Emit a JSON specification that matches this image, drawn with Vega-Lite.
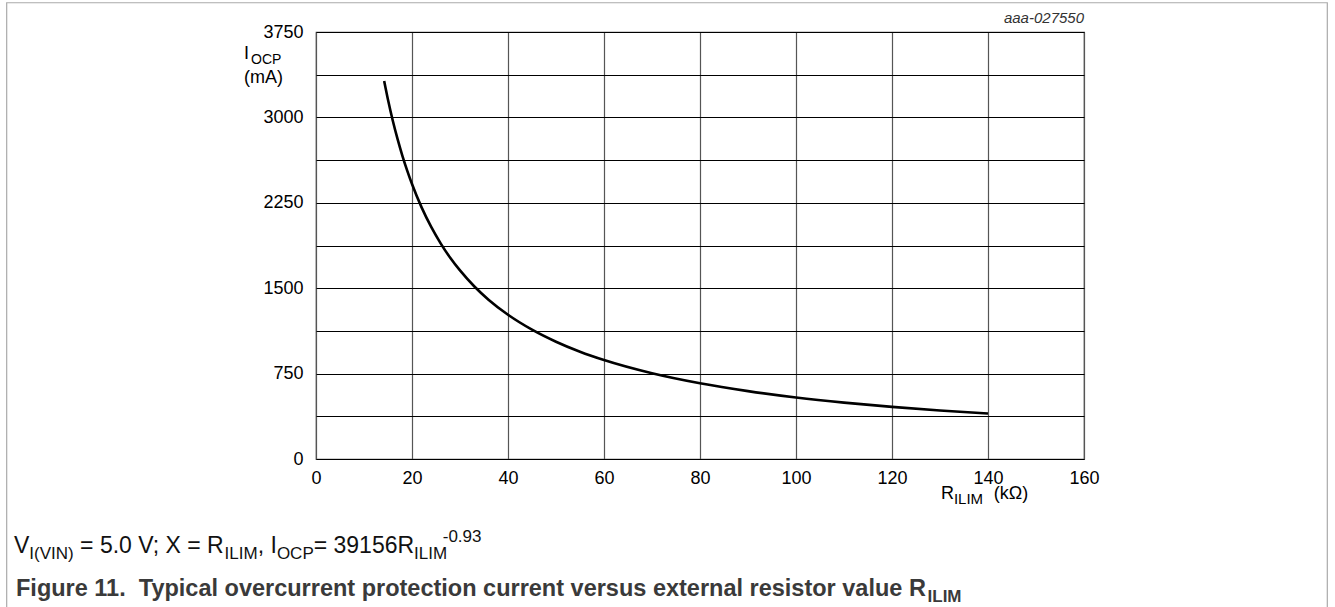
{
  "$schema": "https://vega.github.io/schema/vega-lite/v6.json",
  "width": 768,
  "height": 427,
  "autosize": {"type": "none"},
  "padding": {"left": 316, "top": 32, "right": 251, "bottom": 148},
  "background": "white",
  "config": {
    "font": "Liberation Sans",
    "view": {"stroke": "#444", "strokeWidth": 1.2}
  },
  "layer": [
    {
      "data": {"values": [{"k": 1}]},
      "mark": {"type": "rect", "fillOpacity": 0, "stroke": "#aaaaaa", "strokeWidth": 1.2, "clip": false},
      "encoding": {
        "x": {"datum": -64.44, "type": "quantitative", "scale": {"domain": [0, 160], "nice": false}},
        "x2": {"datum": 210.69},
        "y": {"datum": 4007, "type": "quantitative", "scale": {"domain": [0, 3750], "nice": false}},
        "y2": {"datum": -1414}
      }
    },
    {
      "data": {
        "values": [
          {"r": 14.2, "i": 3320}, {"r": 15, "i": 3155}, {"r": 16, "i": 2971}, {"r": 17, "i": 2809},
          {"r": 18, "i": 2663}, {"r": 19, "i": 2533}, {"r": 20, "i": 2415}, {"r": 22, "i": 2210},
          {"r": 24, "i": 2038}, {"r": 26, "i": 1892}, {"r": 28, "i": 1765}, {"r": 30, "i": 1656},
          {"r": 33, "i": 1515}, {"r": 36, "i": 1397}, {"r": 40, "i": 1267}, {"r": 45, "i": 1136},
          {"r": 50, "i": 1030}, {"r": 55, "i": 942}, {"r": 60, "i": 869}, {"r": 70, "i": 753},
          {"r": 80, "i": 665}, {"r": 90, "i": 596}, {"r": 100, "i": 540}, {"r": 110, "i": 495},
          {"r": 120, "i": 458}, {"r": 130, "i": 426}, {"r": 140, "i": 400}
        ]
      },
      "mark": {"type": "line", "color": "#000", "strokeWidth": 2.6, "interpolate": "monotone"},
      "encoding": {
        "x": {
          "field": "r", "type": "quantitative",
          "scale": {"domain": [0, 160], "nice": false},
          "axis": {
            "values": [0, 20, 40, 60, 80, 100, 120, 140, 160],
            "title": null, "ticks": false, "domain": false,
            "grid": true, "gridColor": "#555", "gridWidth": 1.2, "gridOpacity": 1,
            "labelFontSize": 18, "labelColor": "#000", "labelPadding": 10, "labelFlush": false
          }
        },
        "y": {
          "field": "i", "type": "quantitative",
          "scale": {"domain": [0, 3750], "nice": false},
          "axis": {
            "values": [0, 375, 750, 1125, 1500, 1875, 2250, 2625, 3000, 3375, 3750],
            "labelExpr": "datum.value % 750 === 0 ? format(datum.value, 'd') : ''",
            "title": null, "ticks": false, "domain": false,
            "grid": true, "gridColor": "#000", "gridWidth": 1.2, "gridOpacity": 1,
            "labelFontSize": 18, "labelColor": "#000", "labelPadding": 13, "labelFlush": false
          }
        }
      }
    },
    {
      "data": {"values": [{"t": "aaa-027550"}]},
      "mark": {"type": "text", "align": "right", "baseline": "alphabetic", "fontSize": 15, "fontStyle": "italic", "color": "#333"},
      "encoding": {"text": {"field": "t"}, "x": {"datum": 160}, "y": {"datum": 3829}}
    },
    {
      "data": {"values": [{"t": "I"}]},
      "mark": {"type": "text", "align": "left", "baseline": "alphabetic", "fontSize": 18, "color": "#000"},
      "encoding": {"text": {"field": "t"}, "x": {"datum": -15}, "y": {"datum": 3513}}
    },
    {
      "data": {"values": [{"t": "OCP"}]},
      "mark": {"type": "text", "align": "left", "baseline": "alphabetic", "fontSize": 14, "color": "#000"},
      "encoding": {"text": {"field": "t"}, "x": {"datum": -13.54}, "y": {"datum": 3469}}
    },
    {
      "data": {"values": [{"t": "(mA)"}]},
      "mark": {"type": "text", "align": "left", "baseline": "alphabetic", "fontSize": 18, "color": "#000"},
      "encoding": {"text": {"field": "t"}, "x": {"datum": -15}, "y": {"datum": 3302}}
    },
    {
      "data": {"values": [{"t": "R"}]},
      "mark": {"type": "text", "align": "left", "baseline": "alphabetic", "fontSize": 18, "color": "#000"},
      "encoding": {"text": {"field": "t"}, "x": {"datum": 130.2}, "y": {"datum": -351}}
    },
    {
      "data": {"values": [{"t": "ILIM"}]},
      "mark": {"type": "text", "align": "left", "baseline": "alphabetic", "fontSize": 15, "color": "#000"},
      "encoding": {"text": {"field": "t"}, "x": {"datum": 132.9}, "y": {"datum": -395}}
    },
    {
      "data": {"values": [{"t": "(kΩ)"}]},
      "mark": {"type": "text", "align": "left", "baseline": "alphabetic", "fontSize": 18, "color": "#000"},
      "encoding": {"text": {"field": "t"}, "x": {"datum": 141.2}, "y": {"datum": -351}}
    },
    {
      "data": {"values": [{"t": "V"}]},
      "mark": {"type": "text", "align": "left", "baseline": "alphabetic", "fontSize": 23, "color": "#111"},
      "encoding": {"text": {"field": "t"}, "x": {"datum": -62.917}, "y": {"datum": -825.5}}
    },
    {
      "data": {"values": [{"t": "I(VIN)"}]},
      "mark": {"type": "text", "align": "left", "baseline": "alphabetic", "fontSize": 17, "color": "#111"},
      "encoding": {"text": {"field": "t"}, "x": {"datum": -59.729}, "y": {"datum": -878}}
    },
    {
      "data": {"values": [{"t": "= 5.0 V; X = R"}]},
      "mark": {"type": "text", "align": "left", "baseline": "alphabetic", "fontSize": 23, "color": "#111"},
      "encoding": {"text": {"field": "t"}, "x": {"datum": -49.15}, "y": {"datum": -825.5}}
    },
    {
      "data": {"values": [{"t": "ILIM"}]},
      "mark": {"type": "text", "align": "left", "baseline": "alphabetic", "fontSize": 17, "color": "#111"},
      "encoding": {"text": {"field": "t"}, "x": {"datum": -19.042}, "y": {"datum": -878}}
    },
    {
      "data": {"values": [{"t": ", I"}]},
      "mark": {"type": "text", "align": "left", "baseline": "alphabetic", "fontSize": 23, "color": "#111"},
      "encoding": {"text": {"field": "t"}, "x": {"datum": -12.146}, "y": {"datum": -825.5}}
    },
    {
      "data": {"values": [{"t": "OCP"}]},
      "mark": {"type": "text", "align": "left", "baseline": "alphabetic", "fontSize": 17, "color": "#111"},
      "encoding": {"text": {"field": "t"}, "x": {"datum": -8.146}, "y": {"datum": -878}}
    },
    {
      "data": {"values": [{"t": "= 39156R"}]},
      "mark": {"type": "text", "align": "left", "baseline": "alphabetic", "fontSize": 23, "color": "#111"},
      "encoding": {"text": {"field": "t"}, "x": {"datum": -0.479}, "y": {"datum": -825.5}}
    },
    {
      "data": {"values": [{"t": "ILIM"}]},
      "mark": {"type": "text", "align": "left", "baseline": "alphabetic", "fontSize": 17, "color": "#111"},
      "encoding": {"text": {"field": "t"}, "x": {"datum": 20.438}, "y": {"datum": -878}}
    },
    {
      "data": {"values": [{"t": "-0.93"}]},
      "mark": {"type": "text", "align": "left", "baseline": "alphabetic", "fontSize": 17, "color": "#111"},
      "encoding": {"text": {"field": "t"}, "x": {"datum": 26.4}, "y": {"datum": -733}}
    },
    {
      "data": {"values": [{"t": "Figure 11.\u00a0 Typical overcurrent protection current versus external resistor value R"}]},
      "mark": {"type": "text", "align": "left", "baseline": "alphabetic", "fontSize": 23.5, "fontWeight": "bold", "color": "#3a3a3a"},
      "encoding": {"text": {"field": "t"}, "x": {"datum": -62.5}, "y": {"datum": -1203}}
    },
    {
      "data": {"values": [{"t": "ILIM"}]},
      "mark": {"type": "text", "align": "left", "baseline": "alphabetic", "fontSize": 17, "fontWeight": "bold", "color": "#3a3a3a"},
      "encoding": {"text": {"field": "t"}, "x": {"datum": 127.4}, "y": {"datum": -1256}}
    }
  ]
}
